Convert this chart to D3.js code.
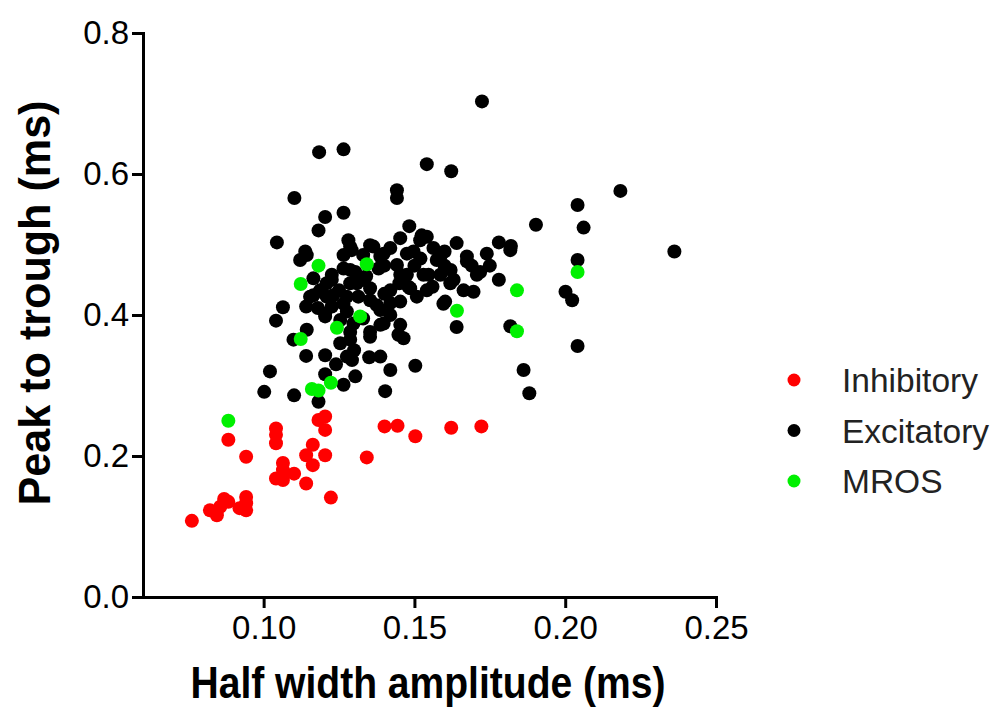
<!DOCTYPE html>
<html>
<head>
<meta charset="utf-8">
<script src="https://cdn.jsdelivr.net/npm/d3@7"></script>
<style>
  body { margin: 0; background: #fff; }
  svg { font-family: "Liberation Sans", Arial, sans-serif; }
  .axis path, .axis line { stroke: #000; stroke-width: 3; }
  .axis text { font-size: 33px; fill: #000; }
</style>
</head>
<body>
<script>
const WIDTH = 995;
const HEIGHT = 709;

// [half width amplitude, peak to trough], both in ms
var inhibitory = [
  [0.0762,0.108],[0.0845,0.116],[0.0822,0.123],[0.0856,0.128],[0.0869,0.139],
  [0.0883,0.135],[0.0920,0.126],[0.0942,0.123],[0.0942,0.133],[0.0942,0.142],
  [0.0883,0.223],[0.0942,0.199],[0.1041,0.239],[0.1041,0.230],[0.1041,0.218],
  [0.1041,0.168],[0.1064,0.190],[0.1064,0.180],[0.1064,0.166],[0.1101,0.175],
  [0.1141,0.161],[0.1141,0.201],[0.1163,0.216],[0.1163,0.187],[0.1182,0.251],
  [0.1204,0.256],[0.1204,0.237],[0.1204,0.201],[0.1223,0.141],[0.1342,0.198],
  [0.1401,0.242],[0.1444,0.243],[0.1503,0.228],[0.1622,0.240],[0.1722,0.242]
];

var excitatory = [
  [0.1724,0.703],[0.1184,0.631],[0.1265,0.635],[0.1541,0.614],[0.1622,0.604],
  [0.1102,0.566],[0.1442,0.577],[0.1442,0.566],[0.2183,0.576],[0.2041,0.556],
  [0.1204,0.539],[0.1265,0.545],[0.1182,0.520],[0.1044,0.503],[0.1903,0.528],
  [0.1483,0.526],[0.2061,0.524],[0.2362,0.490],[0.2041,0.478],[0.2001,0.433],
  [0.2023,0.421],[0.2041,0.356],[0.1818,0.384],[0.1640,0.383],[0.1602,0.419],
  [0.1503,0.328],[0.1403,0.292],[0.1862,0.322],[0.1881,0.289],[0.1304,0.313],
  [0.1293,0.336],[0.1287,0.365],[0.1464,0.367],[0.1447,0.372],[0.1420,0.322],
  [0.1387,0.341],[0.1696,0.433],[0.1663,0.435],[0.1780,0.450],[0.1718,0.461],
  [0.1630,0.450],[0.1620,0.464],[0.1547,0.457],[0.1574,0.478],[0.1541,0.435],
  [0.1508,0.426],[0.1480,0.440],[0.1453,0.457],[0.1420,0.435],[0.1420,0.417],
  [0.1387,0.407],[0.1398,0.388],[0.1353,0.421],[0.1353,0.369],[0.1309,0.445],
  [0.1287,0.464],[0.1398,0.487],[0.1475,0.487],[0.1674,0.483],[0.1740,0.487],
  [0.1818,0.492],[0.1640,0.502],[0.1780,0.503],[0.1820,0.498],[0.1121,0.478],
  [0.1143,0.485],[0.1265,0.485],[0.1064,0.411],[0.1041,0.392],[0.1141,0.412],
  [0.1143,0.379],[0.1099,0.365],[0.1141,0.342],[0.1204,0.343],[0.1021,0.320],
  [0.1002,0.291],[0.1101,0.286],[0.1182,0.277],[0.1204,0.316],[0.1265,0.301],
  [0.1276,0.341],[0.1254,0.360],[0.1204,0.398],[0.1226,0.412],[0.1187,0.435],
  [0.1226,0.450],[0.1209,0.426],[0.1276,0.426],[0.1165,0.428],[0.1298,0.388],
  [0.1254,0.393],[0.1281,0.506],[0.1453,0.509],[0.1519,0.506],[0.1541,0.511],
  [0.1364,0.497],[0.1420,0.495],[0.1138,0.490],[0.1292,0.492],[0.1387,0.483],
  [0.1497,0.490],[0.1563,0.495],[0.1586,0.483],[0.1226,0.457],[0.1265,0.466],
  [0.1304,0.461],[0.1381,0.466],[0.1442,0.471],[0.1475,0.457],[0.1530,0.457],
  [0.1586,0.457],[0.1674,0.476],[0.1707,0.457],[0.1165,0.452],[0.1209,0.445],
  [0.1287,0.445],[0.1331,0.450],[0.1353,0.438],[0.1486,0.438],[0.1619,0.445],
  [0.1154,0.426],[0.1231,0.428],[0.1265,0.416],[0.1314,0.426],[0.1375,0.414],
  [0.1453,0.419],[0.1596,0.416],[0.1204,0.402],[0.1276,0.405],[0.1420,0.400],
  [0.1387,0.386],[0.1453,0.386],[0.1353,0.376],[0.1287,0.376],[0.1287,0.497],
  [0.1353,0.499],[0.1524,0.513],[0.1600,0.470],[0.1690,0.470],[0.1750,0.470],
  [0.1330,0.485],[0.1400,0.470],[0.1500,0.470],[0.1560,0.440],[0.1450,0.445],
  [0.1340,0.455],[0.1250,0.435],[0.1180,0.410],[0.1330,0.395],[0.1400,0.430],
  [0.1600,0.490],[0.1520,0.480],[0.1300,0.350],[0.1240,0.330],[0.1350,0.340]
];

var mros = [
  [0.0883,0.250],[0.1123,0.444],[0.1182,0.470],[0.1342,0.472],[0.1243,0.382],
  [0.1123,0.366],[0.1223,0.304],[0.1182,0.293],[0.1160,0.295],[0.1320,0.398],
  [0.1641,0.406],[0.1840,0.435],[0.1840,0.377],[0.2041,0.461]
];

var groupNames = ['Inhibitory', 'Excitatory', 'MROS'];
var groupColors = ['#ff0000', '#000000', '#00f000'];
var xTicks = [0.10, 0.15, 0.20, 0.25];
var yTicks = [0.0, 0.2, 0.4, 0.6, 0.8];

var svg = d3.select('body').append('svg')
  .attr('width', WIDTH)
  .attr('height', HEIGHT);

var xScale = d3.scaleLinear().domain([0.06, 0.25]).range([143, 716]);
var yScale = d3.scaleLinear().domain([0, 0.8]).range([597, 33]);

var xAxis = d3.axisBottom(xScale).tickValues(xTicks)
  .tickFormat(d3.format('.2f')).tickSize(11).tickPadding(8).tickSizeOuter(0);
var yAxis = d3.axisLeft(yScale).tickValues(yTicks)
  .tickFormat(d3.format('.1f')).tickSize(11).tickPadding(3).tickSizeOuter(0);

svg.append('g')
  .attr('class', 'axis')
  .attr('transform', 'translate(0,597)')
  .call(xAxis);
svg.append('g')
  .attr('class', 'axis')
  .attr('transform', 'translate(143,0)')
  .call(yAxis);

svg.selectAll('.axis .domain').attr('stroke-linecap', 'square');

var groups = [inhibitory, excitatory, mros];
groups.forEach(function (pts, i) {
  svg.append('g').selectAll('circle')
    .data(pts)
    .enter()
    .append('circle')
    .attr('cx', function (d) { return xScale(d[0]); })
    .attr('cy', function (d) { return yScale(d[1]); })
    .attr('r', 7)
    .attr('fill', groupColors[i]);
});

// axis titles
svg.append('text')
  .attr('x', 428)
  .attr('y', 698)
  .attr('text-anchor', 'middle')
  .attr('font-size', 44)
  .attr('font-weight', 'bold')
  .attr('textLength', 475)
  .attr('lengthAdjust', 'spacingAndGlyphs')
  .text('Half width amplitude (ms)');

svg.append('text')
  .attr('transform', 'translate(50,303) rotate(-90)')
  .attr('text-anchor', 'middle')
  .attr('font-size', 45)
  .attr('font-weight', 'bold')
  .attr('textLength', 405)
  .attr('lengthAdjust', 'spacingAndGlyphs')
  .text('Peak to trough (ms)');

// legend
var legend = svg.append('g').attr('transform', 'translate(794,380)');
groupNames.forEach(function (name, i) {
  legend.append('circle')
    .attr('cx', 0)
    .attr('cy', i * 50.5)
    .attr('r', 6.5)
    .attr('fill', groupColors[i]);
  legend.append('text')
    .attr('x', 48)
    .attr('y', i * 50.5 + 12)
    .attr('font-size', 33.5)
    .attr('fill', '#222')
    .text(name);
});
</script>
</body>
</html>
